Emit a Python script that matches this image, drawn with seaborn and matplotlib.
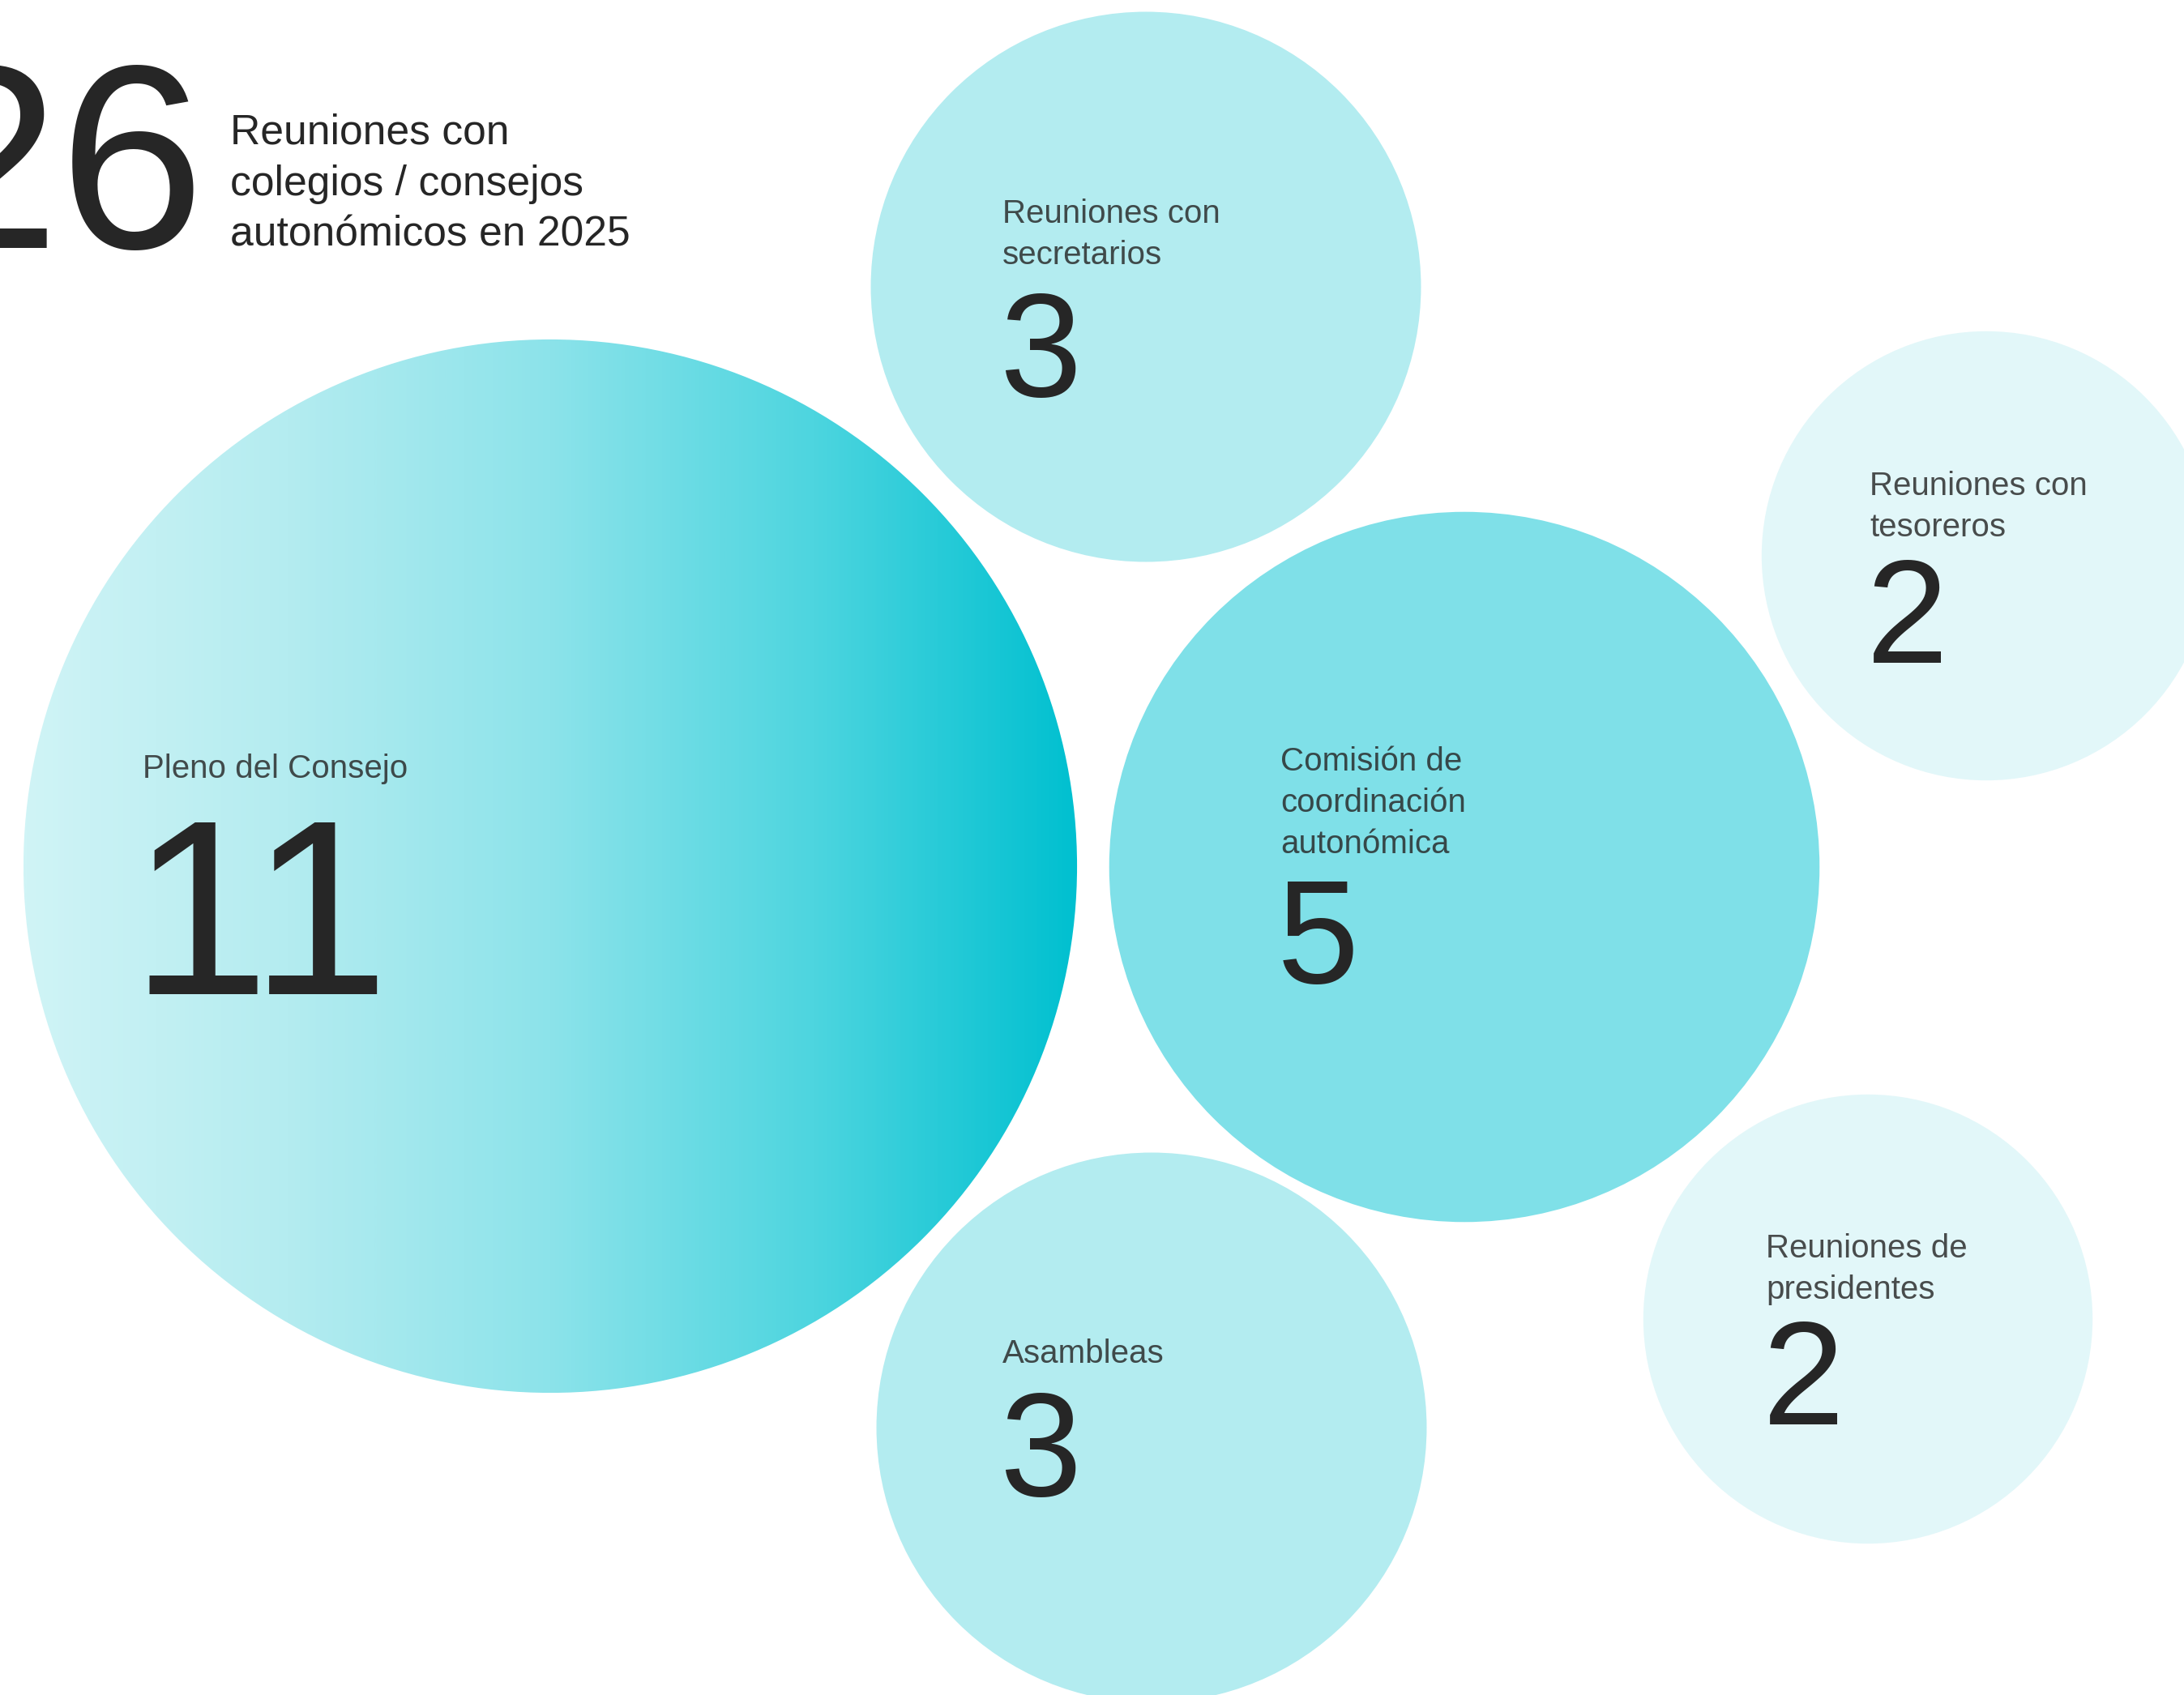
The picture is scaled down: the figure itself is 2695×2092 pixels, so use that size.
import matplotlib.pyplot as plt
import numpy as np
import seaborn as sns
from matplotlib.patches import Circle

# data
total = "26"
title_lines = ["Reuniones con", "colegios / consejos", "autonómicos en 2025"]
labels = [
    ["Pleno del Consejo"],
    ["Reuniones con", "secretarios"],
    ["Reuniones con", "tesoreros"],
    ["Comisión de", "coordinación", "autonómica"],
    ["Reuniones de", "presidentes"],
    ["Asambleas"],
]
values = [11, 3, 2, 5, 2, 3]

# layout (pixel space of the 2695x2092 canvas)
centers_x = [679, 1414, 2451, 1807, 2305, 1421]
centers_y = [1069, 354, 686, 1070, 1628, 1762]
label_xy = [(176, 960), (1237, 275), (2307, 611), (1580, 951), (2179, 1552), (1237, 1682)]
number_baseline = [1227, 489, 818, 1213, 1758, 1846]
fills = [None, '#b3ecf0', '#e2f7f9', '#7fe0e8', '#e2f7f9', '#b3ecf0']
gradient_stops = ['#d0f4f6', '#b4ecf0', '#8ce3ea', '#4dd5df', '#00c0d0']
radius_scale = 196

W, H = 2695, 2092

sns.set_theme(style="white")
plt.rcParams['font.family'] = ['Liberation Sans', 'DejaVu Sans']

fig = plt.figure(figsize=(W / 100, H / 100), dpi=100)
ax = fig.add_axes([0, 0, 1, 1])
ax.set_xlim(0, W)
ax.set_ylim(H, 0)
ax.set_aspect('equal')
ax.axis('off')

grad_cmap = sns.blend_palette(gradient_stops, n_colors=256, as_cmap=True)
radii = [radius_scale * np.sqrt(v) for v in values]

for cx, cy, r, fill in zip(centers_x, centers_y, radii, fills):
  if fill is None:
    circ = Circle((cx, cy), r, facecolor='none', edgecolor='none')
    ax.add_patch(circ)
    grad = np.linspace(0, 1, 512).reshape(1, -1)
    img = ax.imshow(grad, cmap=grad_cmap, aspect='auto',
                    extent=(cx - r, cx + r, cy + r, cy - r), zorder=1)
    img.set_clip_path(circ)
  else:
    ax.add_patch(Circle((cx, cy), r, facecolor=fill, edgecolor='none', zorder=1))

ax.set_xlim(0, W)
ax.set_ylim(H, 0)

label_size = 29
line_gap = 51
for (lx, ly), lines, val, nb in zip(label_xy, labels, values, number_baseline):
  for i, line in enumerate(lines):
    ax.text(lx, ly + i * line_gap, line, fontsize=label_size, color='#262626',
            alpha=0.82, ha='left', va='baseline', zorder=3)
  if val >= 10:
    ax.text(lx - 16, nb, str(val), fontsize=222, color='#262626',
            ha='left', va='baseline', zorder=3)
  else:
    ax.text(lx - 4, nb, str(val), fontsize=131, color='#262626',
            ha='left', va='baseline', zorder=3)

# headline
ax.text(254, 306, total, fontsize=233, color='#262626', ha='right', va='baseline', zorder=3)
for i, line in enumerate(title_lines):
  ax.text(284, 177 + i * 63.5, line, fontsize=37.2, color='#262626',
          ha='left', va='baseline', zorder=3)

fig.savefig('out.png', dpi=100, facecolor='white')
